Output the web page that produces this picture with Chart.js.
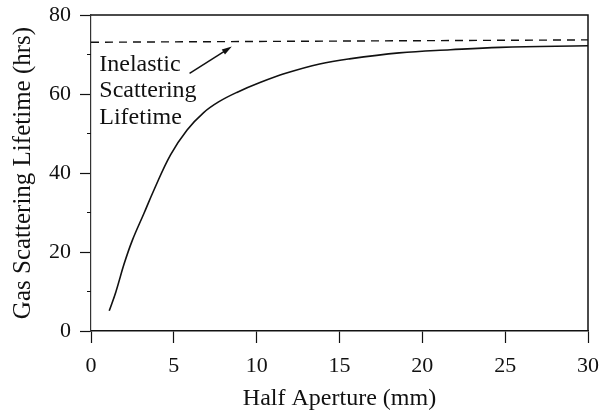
<!DOCTYPE html>
<html>
<head>
<meta charset="utf-8">
<script src="https://cdn.jsdelivr.net/npm/chart.js@4"></script>
<style>
  html, body { margin: 0; padding: 0; background: #fff; }
  #wrap { width: 604px; height: 413px; }
</style>
</head>
<body>
<div id="wrap"><canvas id="lifetimeChart" width="604" height="413"></canvas></div>
<script>
// Gas scattering lifetime vs half aperture
const halfAperture = [1.1, 1.5, 2.0, 2.5, 3.2, 3.8, 4.8, 5.8, 6.8, 7.7, 8.8, 10.2, 11.8, 13.8, 15.6, 18.6, 21.7, 24.7, 30];
const gasLifetime  = [5.1, 9.9, 17.0, 23.0, 29.8, 35.7, 44.6, 50.9, 55.3, 58.0, 60.4, 62.9, 65.3, 67.6, 68.9, 70.4, 71.2, 71.8, 72.2];

// inelastic scattering limit (dashed line)
const inelasticX = [0, 30];
const inelasticY = [73.1, 73.7];

const xTicks = [0, 5, 10, 15, 20, 25, 30];
const yTicks = [0, 20, 40, 60, 80];
const yMinorTicks = [10, 30, 50, 70];

// annotation text + arrow, in data coordinates
const noteLines = ['Inelastic', 'Scattering', 'Lifetime'];
const noteAnchor = [0.5, 65.9];
const arrowFrom = [5.95, 65.2];
const arrowTo = [8.5, 72.0];

const INK = '#111';
const FONT = '"Liberation Serif", "Times New Roman", serif';

function toPoints(xs, ys) {
    return xs.map((x, i) => ({ x: x, y: ys[i] }));
}

// draws top/right frame, minor y ticks, arrow and the note text
const extrasPlugin = {
    id: 'extras',
    afterDraw(chart) {
        const ctx = chart.ctx;
        const area = chart.chartArea;
        const xs = chart.scales.x;
        const ys = chart.scales.y;

        ctx.save();
        ctx.strokeStyle = INK;
        ctx.lineWidth = 1.5;
        ctx.beginPath();
        ctx.moveTo(area.left, area.top);
        ctx.lineTo(area.right, area.top);
        ctx.lineTo(area.right, area.bottom);
        ctx.stroke();

        // minor ticks on the y axis
        ctx.lineWidth = 1;
        yMinorTicks.forEach(v => {
            const y = ys.getPixelForValue(v);
            ctx.beginPath();
            ctx.moveTo(area.left - 4, y);
            ctx.lineTo(area.left, y);
            ctx.stroke();
        });

        // arrow
        const x1 = xs.getPixelForValue(arrowFrom[0]);
        const y1 = ys.getPixelForValue(arrowFrom[1]);
        const x2 = xs.getPixelForValue(arrowTo[0]);
        const y2 = ys.getPixelForValue(arrowTo[1]);
        const ang = Math.atan2(y2 - y1, x2 - x1);
        const headLen = 10;
        const headW = 3;
        ctx.lineWidth = 1.5;
        ctx.beginPath();
        ctx.moveTo(x1, y1);
        ctx.lineTo(x2 - Math.cos(ang) * headLen * 0.8, y2 - Math.sin(ang) * headLen * 0.8);
        ctx.stroke();
        ctx.fillStyle = INK;
        ctx.beginPath();
        ctx.moveTo(x2, y2);
        ctx.lineTo(x2 - Math.cos(ang) * headLen - Math.sin(ang) * headW,
                   y2 - Math.sin(ang) * headLen + Math.cos(ang) * headW);
        ctx.lineTo(x2 - Math.cos(ang) * headLen + Math.sin(ang) * headW,
                   y2 - Math.sin(ang) * headLen - Math.cos(ang) * headW);
        ctx.closePath();
        ctx.fill();

        // note text
        ctx.font = '24px ' + FONT;
        ctx.textAlign = 'left';
        ctx.textBaseline = 'alphabetic';
        const tx = xs.getPixelForValue(noteAnchor[0]);
        const ty = ys.getPixelForValue(noteAnchor[1]);
        noteLines.forEach((line, i) => {
            ctx.fillText(line, tx, ty + i * 26.7);
        });
        ctx.restore();
    }
};

const ctx = document.getElementById('lifetimeChart').getContext('2d');

new Chart(ctx, {
    type: 'line',
    data: {
        datasets: [
            {
                label: 'Gas scattering lifetime',
                data: toPoints(halfAperture, gasLifetime),
                borderColor: INK,
                borderWidth: 1.6,
                pointRadius: 0,
                fill: false,
                tension: 0.4
            },
            {
                label: 'Inelastic scattering lifetime',
                data: toPoints(inelasticX, inelasticY),
                borderColor: INK,
                borderWidth: 1.4,
                borderDash: [8, 6],
                pointRadius: 0,
                fill: false
            }
        ]
    },
    options: {
        responsive: false,
        animation: false,
        layout: {
            padding: { left: 0, right: 16, top: 15, bottom: 0 }
        },
        plugins: {
            legend: { display: false },
            tooltip: { enabled: false }
        },
        scales: {
            x: {
                type: 'linear',
                min: 0,
                max: 30,
                afterBuildTicks: (scale) => {
                    scale.ticks = xTicks.map(v => ({ value: v }));
                },
                afterFit: (scale) => {
                    scale.height = 82;
                    scale.paddingLeft = 0;
                    scale.paddingRight = 0;
                },
                grid: {
                    drawOnChartArea: false,
                    drawTicks: true,
                    tickLength: 12,
                    tickColor: INK,
                    tickWidth: 1.2
                },
                border: { display: true, color: INK, width: 1.5 },
                ticks: {
                    color: INK,
                    padding: 10,
                    maxRotation: 0,
                    font: { family: FONT, size: 22 }
                },
                title: {
                    display: true,
                    text: 'Half Aperture (mm)',
                    color: INK,
                    padding: { top: 0, bottom: 0 },
                    font: { family: FONT, size: 24 }
                }
            },
            y: {
                type: 'linear',
                min: 0,
                max: 80,
                afterBuildTicks: (scale) => {
                    scale.ticks = yTicks.map(v => ({ value: v }));
                },
                afterFit: (scale) => {
                    scale.width = 91;
                    scale.paddingTop = 0;
                    scale.paddingBottom = 0;
                },
                grid: {
                    drawOnChartArea: false,
                    drawTicks: true,
                    tickLength: 11,
                    tickColor: INK,
                    tickWidth: 1.2
                },
                border: { display: true, color: '#333', width: 1.2 },
                ticks: {
                    color: INK,
                    padding: 9,
                    font: { family: FONT, size: 22 }
                },
                title: {
                    display: true,
                    text: 'Gas Scattering Lifetime (hrs)',
                    color: INK,
                    padding: { top: 8, bottom: 0 },
                    font: { family: FONT, size: 25 }
                }
            }
        }
    },
    plugins: [extrasPlugin]
});
</script>
</body>
</html>
